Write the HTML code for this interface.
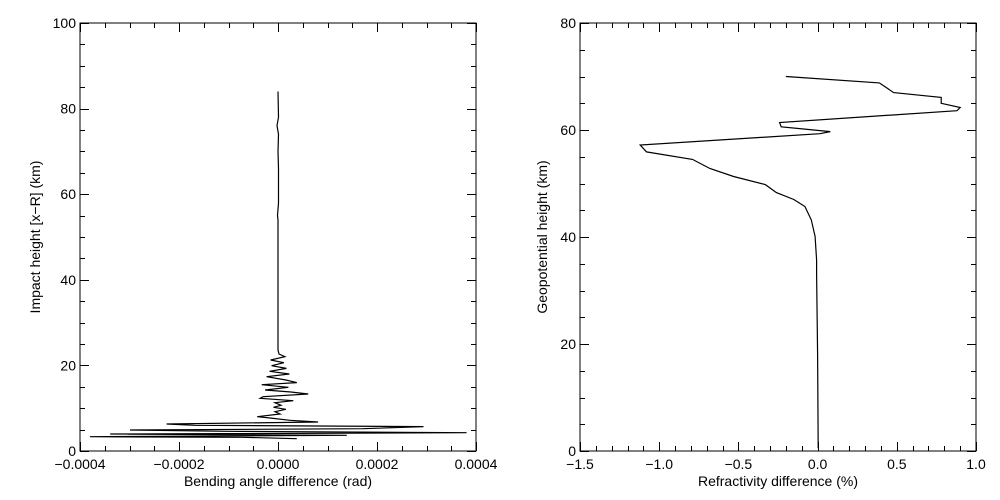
<!DOCTYPE html>
<html><head><meta charset="utf-8"><style>
html,body{margin:0;padding:0;background:#fff;}
svg{display:block;font-family:"Liberation Sans",sans-serif;}
</style></head><body>
<svg id="chart" width="1000" height="500" viewBox="0 0 1000 500" xmlns="http://www.w3.org/2000/svg">
<rect width="1000" height="500" fill="#fff"/>
</svg>
<script>
// Left panel data: [impact height km, bending angle difference in micro-rad]
const leftHeights = [84,78,76,74,70,66,62,58,55,54,40,30,24,23.6,22.66,22.04,21.26,20.64,19.94,19.31,18.61,17.99,17.37,16.59,15.97,15.5,14.88,14.25,13.79,13.32,12.69,12.31,11.76,11.29,10.67,10.2,9.74,9.19,8.64,8.02,7.71,7.17,6.78,6.31,6.0,5.69,5.22,4.91,4.6,4.28,3.97,3.66,3.35,3.19,2.88];
const leftValuesMicro = [0,1,-2,1,0,1,1,1,-1,0,0,0,0,0,2,14,-15,12,-13,17,-17,23,-23,16,38,-33,21,-26,26,61,-30,-36,31,-6,6,-9,16,-6,4,-42,-16,24,81,-225,-168,294,172,-299,-104,381,-339,139,-380,-70,38];
const leftXTicks = ["-0.0004","-0.0002","0.0000","0.0002","0.0004"];
const leftYTicks = ["0","20","40","60","80","100"];
// Right panel data: [geopotential height km, refractivity difference %]
const rightHeights = [70.0,68.8,67.8,67.0,66.1,65.0,64.2,63.6,61.4,60.6,59.7,59.3,57.2,55.9,54.5,52.8,51.3,49.8,48.3,47.0,45.7,43.2,40.1,35.7,33.1,17.9,0.5];
const rightValues = [-0.2,0.39,0.44,0.48,0.78,0.78,0.90,0.88,-0.24,-0.23,0.08,0.015,-1.12,-1.08,-0.79,-0.68,-0.53,-0.33,-0.26,-0.15,-0.08,-0.04,-0.016,-0.006,-0.006,0.0,0.004];
const rightXTicks = ["-1.5","-1.0","-0.5","0.0","0.5","1.0"];
const rightYTicks = ["0","20","40","60","80"];

const NS="http://www.w3.org/2000/svg";
const svg=document.getElementById('chart');
function mk(tag,attrs,parent){const e=document.createElementNS(NS,tag);for(const k in attrs)e.setAttribute(k,attrs[k]);(parent||svg).appendChild(e);return e;}

function panel(cfg){
  const g=mk('g',{});
  
  
  const L=cfg.x0,R=cfg.x1,T=23,B=451;
  const sx=v=>L+(v-cfg.xmin)/(cfg.xmax-cfg.xmin)*(R-L);
  const sy=v=>B-(v-cfg.ymin)/(cfg.ymax-cfg.ymin)*(B-T);
  const frame=mk('rect',{x:L,y:T,width:R-L,height:B-T,fill:'none',stroke:'#000','stroke-width':1},g);
  
  
  let d='';
  for(let v=cfg.xmin,i=0;v<=cfg.xmax+1e-12;i++,v=cfg.xmin+i*cfg.xminor){
    const major=(i%cfg.xmajEvery)===0, len=major?9:5, x=Math.round(sx(v))+0.5;
    d+=`M${x} ${B}V${B-len}M${x} ${T}V${T+len}`;
  }
  for(let v=cfg.ymin,i=0;v<=cfg.ymax+1e-12;i++,v=cfg.ymin+i*cfg.yminor){
    const major=(i%cfg.ymajEvery)===0, len=major?9:5, y=Math.round(sy(v))+0.5;
    d+=`M${L} ${y}H${L+len}M${R} ${y}H${R-len}`;
  }
  const ticks=mk('path',{d:d,stroke:'#000','stroke-width':1,fill:'none'},g);
  
  
  cfg.xticks.forEach((t,i)=>{
    const v=cfg.xmin+i*cfg.xminor*cfg.xmajEvery;
    const e=mk('text',{x:sx(v),y:469,'font-size':14,'text-anchor':'middle',fill:'#000'},g);
    e.textContent=t.replace('-','\u2212');
    
    
  });
  cfg.yticks.forEach((t,i)=>{
    const v=cfg.ymin+i*cfg.yminor*cfg.ymajEvery;
    const e=mk('text',{x:L-4,y:sy(v)+5,'font-size':14,'text-anchor':'end',fill:'#000'},g);
    e.textContent=t;
    
    
  });
  const xt=mk('text',{x:(L+R)/2,y:486,'font-size':14,'text-anchor':'middle',fill:'#000'},g);
  xt.textContent=cfg.xtitle;
  
  
  const yt=mk('text',{x:0,y:0,'font-size':14,'text-anchor':'middle',fill:'#000',transform:`translate(${cfg.ytx},${(T+B)/2}) rotate(-90)`},g);
  yt.textContent=cfg.ytitle;
  
  
  let p='';
  cfg.hs.forEach((h,i)=>{p+=(i?'L':'M')+sx(cfg.vs[i]*cfg.vscale).toFixed(1)+' '+sy(h).toFixed(1);});
  const line=mk('path',{d:p,stroke:'#000','stroke-width':1.2,fill:'none'},g);
  
  
}
panel({name:'bending-angle-panel',x0:80,x1:476,xmin:-0.0004,xmax:0.0004,xminor:0.00005,xmajEvery:4,ymin:0,ymax:100,yminor:5,ymajEvery:4,
  xticks:leftXTicks,yticks:leftYTicks,xtitle:'Bending angle difference (rad)',ytitle:'Impact height [x\u2212R] (km)',ytx:40,
  hs:leftHeights,vs:leftValuesMicro,vscale:1e-6});
panel({name:'refractivity-panel',x0:580,x1:976,xmin:-1.5,xmax:1.0,xminor:0.1,xmajEvery:5,ymin:0,ymax:80,yminor:5,ymajEvery:4,
  xticks:rightXTicks,yticks:rightYTicks,xtitle:'Refractivity difference (%)',ytitle:'Geopotential height (km)',ytx:547,
  hs:rightHeights,vs:rightValues,vscale:1});
</script>
</body></html>
